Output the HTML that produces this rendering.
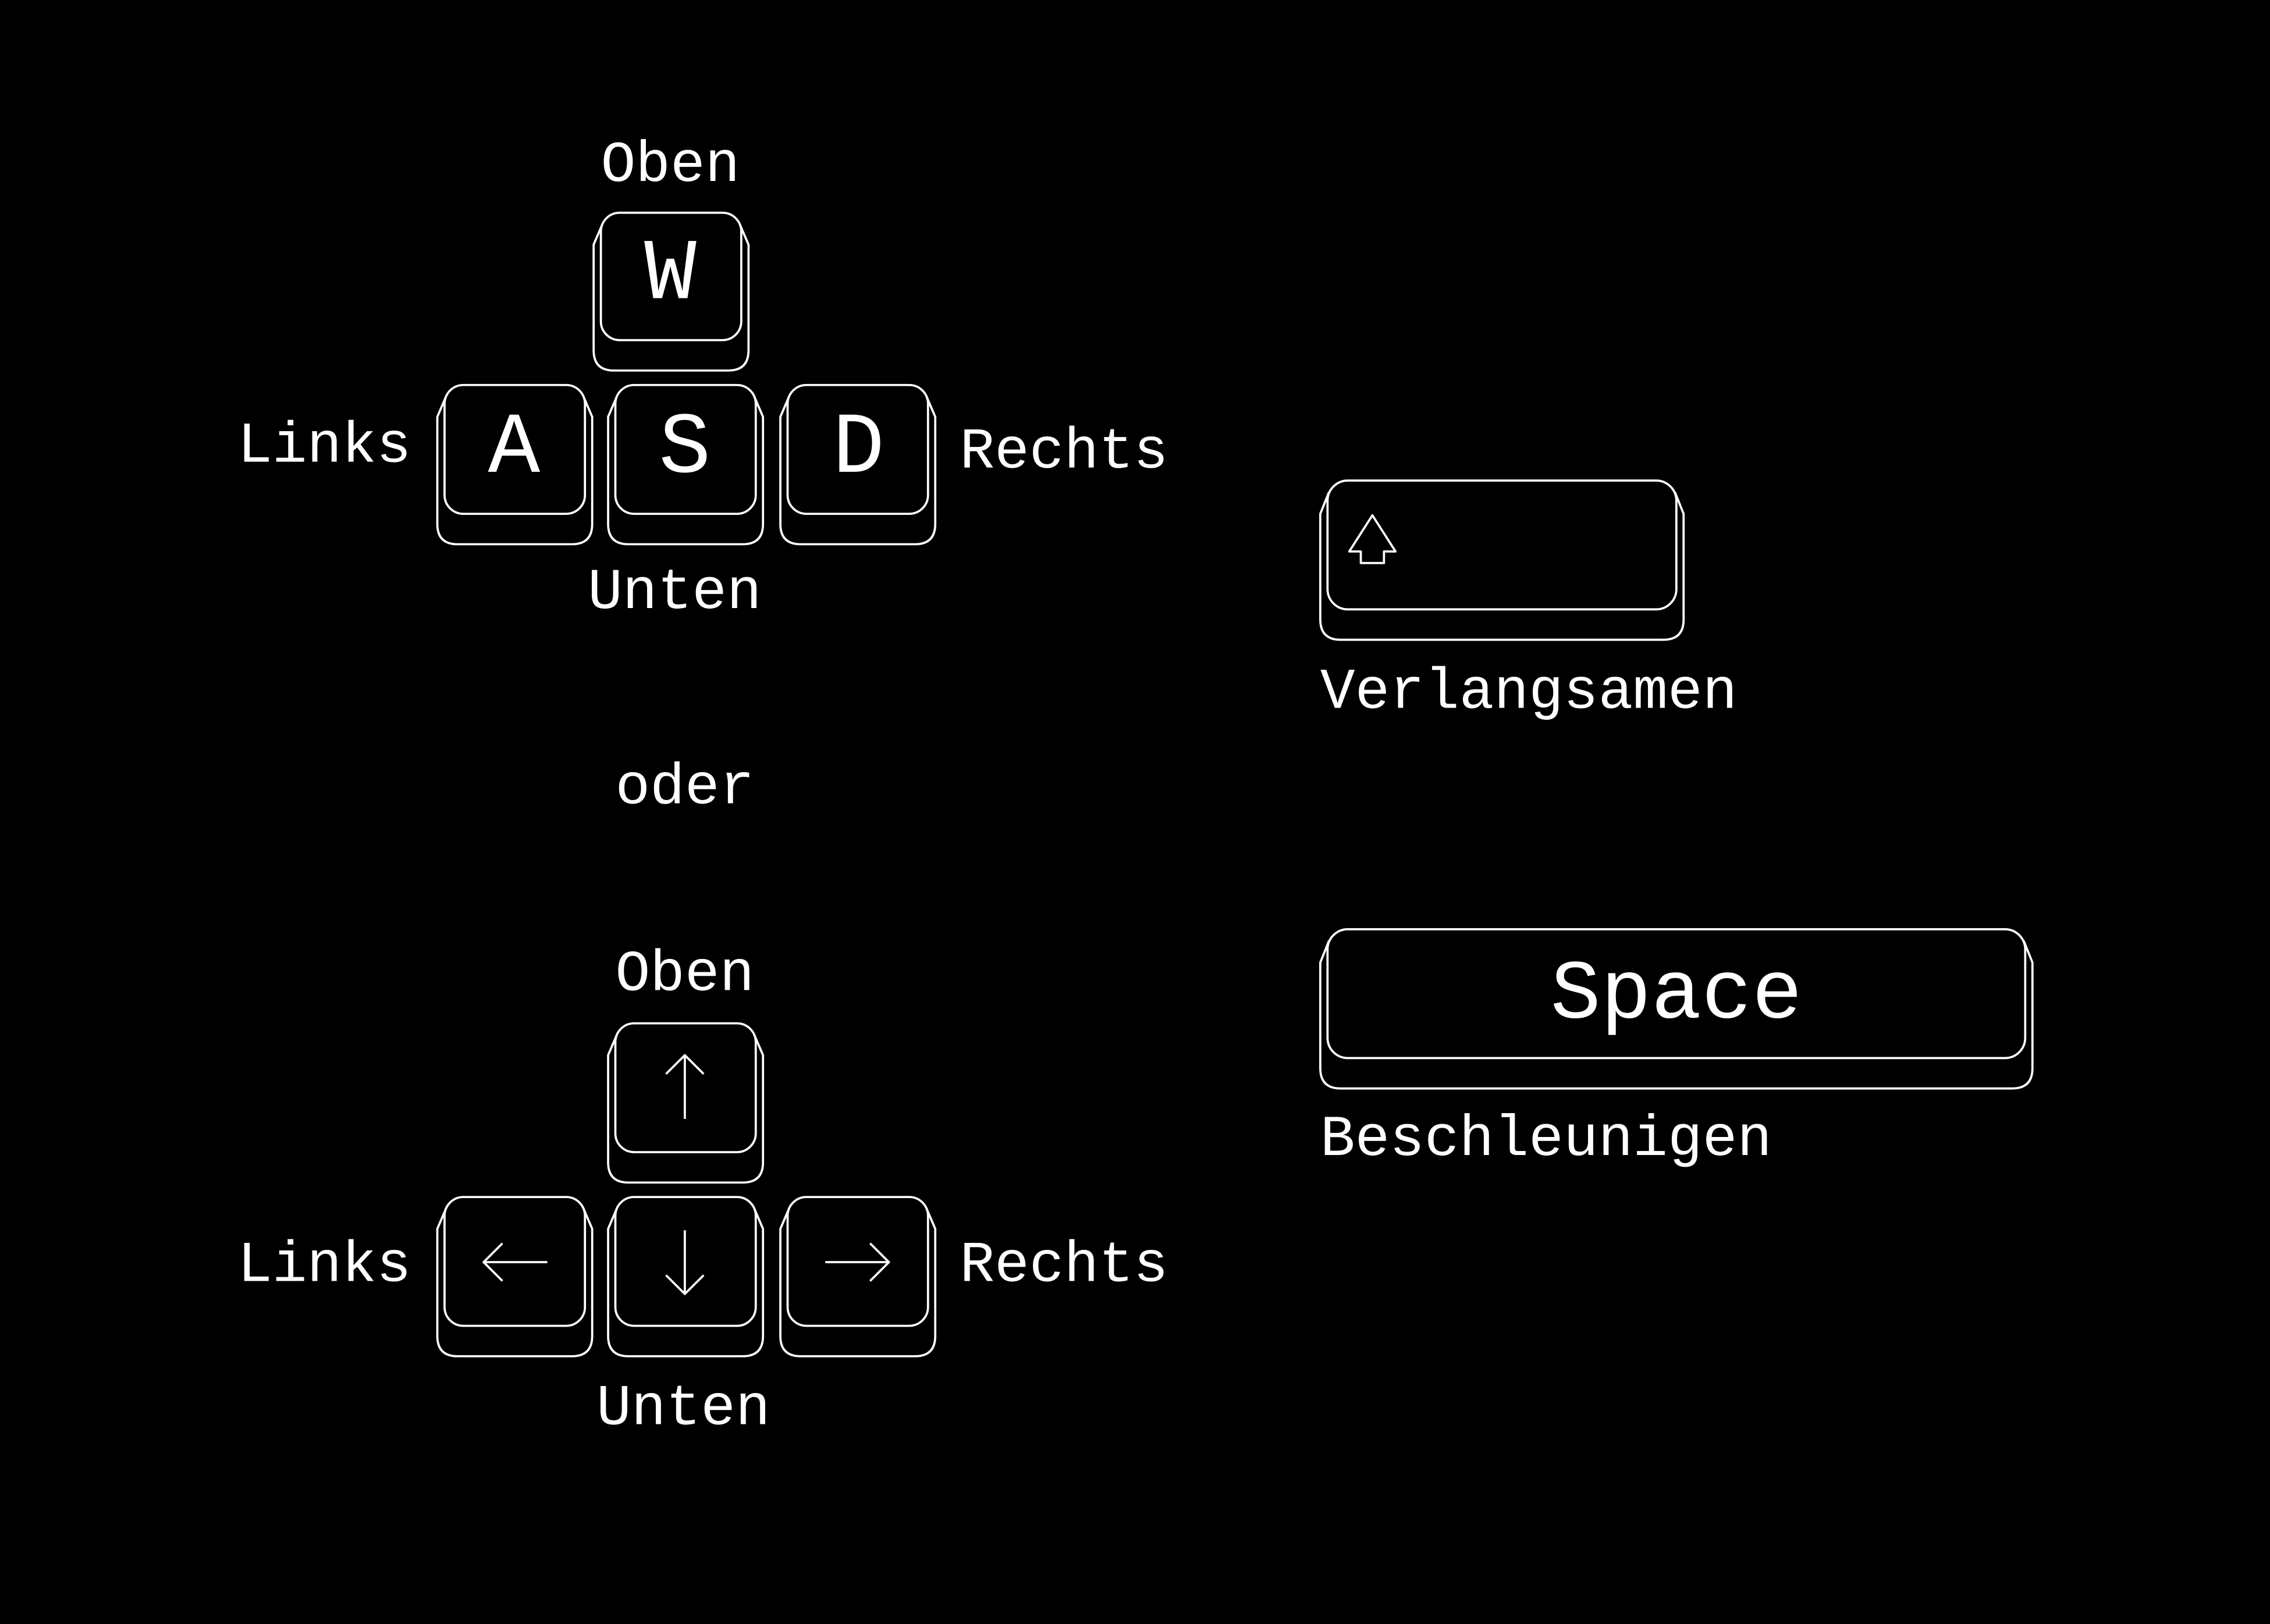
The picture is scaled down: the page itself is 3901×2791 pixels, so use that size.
<!DOCTYPE html>
<html><head><style>
html,body{margin:0;padding:0;background:#000;}
svg{display:block;}
text{font-family:"Liberation Mono","DejaVu Sans Mono",monospace;fill:#fff;}
</style></head><body>
<svg width="3901" height="2791" viewBox="0 0 1568 1122" xmlns="http://www.w3.org/2000/svg">
<rect width="1568" height="1122" fill="#000"/>
<g fill="none" stroke="#fff" stroke-width="1.5" stroke-linejoin="round">
<!-- W -->
<path d="M416,155 L410,169 L410,242 Q410,256 424,256 L503,256 Q517,256 517,242 L517,169 L511,155"/>
<rect x="415" y="147" width="97" height="88" rx="13"/>
<!-- A -->
<path d="M308,274 L302,288 L302,362 Q302,376 316,376 L395,376 Q409,376 409,362 L409,288 L403,274"/>
<rect x="307" y="266" width="97" height="89" rx="13"/>
<!-- S -->
<path d="M426,274 L420,288 L420,362 Q420,376 434,376 L513,376 Q527,376 527,362 L527,288 L521,274"/>
<rect x="425" y="266" width="97" height="89" rx="13"/>
<!-- D -->
<path d="M545,274 L539,288 L539,362 Q539,376 553,376 L632,376 Q646,376 646,362 L646,288 L640,274"/>
<rect x="544" y="266" width="97" height="89" rx="13"/>
<!-- Up -->
<path d="M426,715 L420,729 L420,803 Q420,817 434,817 L513,817 Q527,817 527,803 L527,729 L521,715"/>
<rect x="425" y="707" width="97" height="89" rx="13"/>
<!-- Left -->
<path d="M308,835 L302,849 L302,923 Q302,937 316,937 L395,937 Q409,937 409,923 L409,849 L403,835"/>
<rect x="307" y="827" width="97" height="89" rx="13"/>
<!-- Down -->
<path d="M426,835 L420,849 L420,923 Q420,937 434,937 L513,937 Q527,937 527,923 L527,849 L521,835"/>
<rect x="425" y="827" width="97" height="89" rx="13"/>
<!-- Right -->
<path d="M545,835 L539,849 L539,923 Q539,937 553,937 L632,937 Q646,937 646,923 L646,849 L640,835"/>
<rect x="544" y="827" width="97" height="89" rx="13"/>
<!-- Shift -->
<path d="M918,340 L912,355 L912,428 Q912,442 926,442 L1149,442 Q1163,442 1163,428 L1163,355 L1157,340"/>
<rect x="917" y="332" width="241" height="89" rx="14"/>
<path d="M948,356 L932,381 L940,381 L940,389 L956,389 L956,381 L964,381 Z"/>
<!-- Space -->
<path d="M918,650 L912,665 L912,738 Q912,752 926,752 L1390,752 Q1404,752 1404,738 L1404,665 L1398,650"/>
<rect x="917" y="642" width="482" height="89" rx="14"/>
<!-- arrows -->
<path d="M473,773 L473,729 M460,742 L473,729 L486,742"/>
<path d="M378,872 L334,872 M347,859 L334,872 L347,885"/>
<path d="M473,850 L473,894 M460,881 L473,894 L486,881"/>
<path d="M570,872 L614,872 M601,859 L614,872 L601,885"/>
</g>
<g font-size="40">
<text x="463" y="125" text-anchor="middle">Oben</text>
<text x="224" y="319" text-anchor="middle">Links</text>
<text x="735" y="323" text-anchor="middle">Rechts</text>
<text x="466" y="420" text-anchor="middle">Unten</text>
<text x="473" y="555" text-anchor="middle">oder</text>
<text x="473" y="684" text-anchor="middle">Oben</text>
<text x="224" y="885" text-anchor="middle">Links</text>
<text x="735" y="885" text-anchor="middle">Rechts</text>
<text x="472" y="984" text-anchor="middle">Unten</text>
<text x="912" y="489">Verlangsamen</text>
<text x="912" y="798">Beschleunigen</text>
</g>
<g font-size="60" text-anchor="middle">
<text x="463" y="206">W</text>
<text x="355" y="326">A</text>
<text x="473" y="326">S</text>
<text x="593" y="326">D</text>
<text x="1158" y="703" font-size="58">Space</text>
</g>
</svg>
</body></html>
